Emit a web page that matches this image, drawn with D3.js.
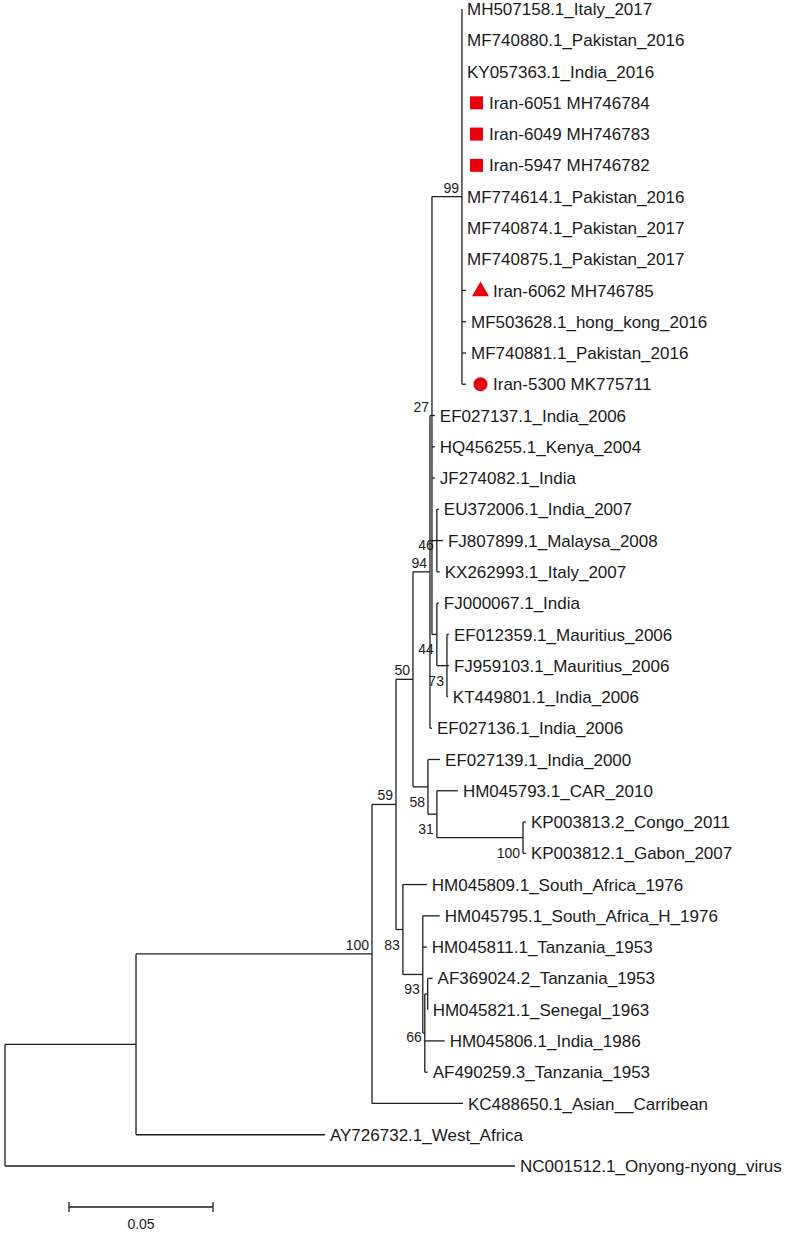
<!DOCTYPE html>
<html><head><meta charset="utf-8">
<script src="https://cdn.jsdelivr.net/npm/d3@7"></script>
<style>body{margin:0;background:#fff}svg{display:block}</style>
</head><body><svg id="chart" width="787" height="1237"></svg>
<script>
// Tree edges in drawing order: [node, parent, branch length (substitutions/site)]
const edges = [
  ["n1","root",0.04549],
  ["n2","n1",0.08194],
  ["n3","n2",0.00833],
  ["n4","n3",0.00590],
  ["n5","n4",0.00590],
  ["n6","n5",0.00069],
  ["n7","n6",0.01042],
  ["MH507158.1_Italy_2017","n7",0],
  ["MF740880.1_Pakistan_2016","n7",0],
  ["KY057363.1_India_2016","n7",0],
  ["Iran-6051 MH746784","n7",0],
  ["Iran-6049 MH746783","n7",0],
  ["Iran-5947 MH746782","n7",0],
  ["MF774614.1_Pakistan_2016","n7",0],
  ["MF740874.1_Pakistan_2017","n7",0],
  ["MF740875.1_Pakistan_2017","n7",0],
  ["Iran-6062 MH746785","n7",0.0014],
  ["MF503628.1_hong_kong_2016","n7",0.0014],
  ["MF740881.1_Pakistan_2016","n7",0.0014],
  ["Iran-5300 MK775711","n7",0.0014],
  ["EF027137.1_India_2006","n6",0.0010],
  ["HQ456255.1_Kenya_2004","n6",0.0010],
  ["JF274082.1_India","n6",0.0010],
  ["n8","n6",0.0017],
  ["EU372006.1_India_2007","n8",0.0007],
  ["FJ807899.1_Malaysa_2008","n8",0.0021],
  ["KX262993.1_Italy_2007","n8",0.0010],
  ["n9","n6",0.0017],
  ["FJ000067.1_India","n9",0.0007],
  ["n10","n9",0.0035],
  ["EF012359.1_Mauritius_2006","n10",0.0007],
  ["FJ959103.1_Mauritius_2006","n10",0.0007],
  ["KT449801.1_India_2006","n10",0.0003],
  ["EF027136.1_India_2006","n5",0.0007],
  ["n11","n4",0.0052],
  ["EF027139.1_India_2000","n11",0.0042],
  ["n12","n11",0.0031],
  ["HM045793.1_CAR_2010","n12",0.0073],
  ["n13","n12",0.0299],
  ["KP003813.2_Congo_2011","n13",0.0010],
  ["KP003812.1_Gabon_2007","n13",0.0010],
  ["n14","n3",0.0024],
  ["HM045809.1_South_Africa_1976","n14",0.0083],
  ["n15","n14",0.0069],
  ["HM045795.1_South_Africa_H_1976","n15",0.0059],
  ["HM045811.1_Tanzania_1953","n15",0.0014],
  ["n16","n15",0.0007],
  ["n17","n16",0.0010],
  ["AF369024.2_Tanzania_1953","n17",0.0017],
  ["HM045821.1_Senegal_1963","n17",0],
  ["HM045806.1_India_1986","n16",0.0069],
  ["AF490259.3_Tanzania_1953","n16",0.0010],
  ["KC488650.1_Asian__Carribean","n2",0.0316],
  ["AY726732.1_West_Africa","n1",0.0656],
  ["NC001512.1_Onyong-nyong_virus","root",0.1771]
];
// Bootstrap values: [node, value, side of node]
const bootstraps = [
  ["n2",100,"above"],["n3",59,"above"],["n4",50,"above"],["n5",94,"above"],
  ["n6",27,"above"],["n7",99,"above"],["n8",46,"mid"],["n9",44,"below"],
  ["n10",73,"below"],["n11",58,"below"],["n12",31,"below"],["n13",100,"below"],
  ["n14",83,"below"],["n15",93,"below"],["n16",66,"mid"]
];
// Highlighted Iranian isolates
const markers = [
  ["Iran-6051 MH746784","square"],["Iran-6049 MH746783","square"],
  ["Iran-5947 MH746782","square"],["Iran-6062 MH746785","triangle"],
  ["Iran-5300 MK775711","circle"]
];
const scaleBarValue = 0.05;
const scaleBarLabel = "0.05";

const svg = d3.select("#chart");
const rows = [{id:"root",parentId:null,len:0}].concat(edges.map(e=>({id:e[0],parentId:e[1],len:e[2]})));
const root = d3.stratify().id(d=>d.id).parentId(d=>d.parentId)(rows);
root.eachBefore(n=>{ n.dist = n.parent ? n.parent.dist + n.data.len : 0; });
const leaves = root.leaves();
const x = d3.scaleLinear().domain([0, scaleBarValue]).range([5, 149]);
const y = d3.scalePoint().domain(leaves.map(d=>d.id)).range([9, 1166]);
root.eachAfter(n=>{
  if (n.children) n.py = (n.children[0].py + n.children[n.children.length-1].py)/2;
  else n.py = y(n.id);
});

const lineColor = "#1e1e1e";
const g = svg.append("g").attr("fill","none").attr("stroke",lineColor).attr("stroke-width",1.3);
// horizontal branches
g.selectAll("line.h").data(root.descendants().filter(d=>d.parent)).join("line")
  .attr("class","h")
  .attr("x1",d=>x(d.parent.dist)).attr("x2",d=>x(d.dist))
  .attr("y1",d=>d.py).attr("y2",d=>d.py);
// vertical connectors
g.selectAll("line.v").data(root.descendants().filter(d=>d.children)).join("line")
  .attr("class","v")
  .attr("x1",d=>x(d.dist)).attr("x2",d=>x(d.dist))
  .attr("y1",d=>d.children[0].py).attr("y2",d=>d.children[d.children.length-1].py);

const markerMap = new Map(markers);
const font = "'Liberation Sans', Arial, sans-serif";
// leaf labels
svg.append("g").selectAll("text").data(leaves).join("text")
  .attr("x",d=>x(d.dist) + (markerMap.has(d.id) ? 27 : 5))
  .attr("y",d=>d.py).attr("dy","0.36em")
  .attr("font-family",font).attr("font-size","17px").attr("fill","#1a1a1a")
  .text(d=>d.id);
// markers
const shapes = {square:d3.symbolSquare, triangle:d3.symbolTriangle, circle:d3.symbolCircle};
const sizes = {square:169, triangle:125, circle:154};
svg.append("g").selectAll("path").data(leaves.filter(d=>markerMap.has(d.id))).join("path")
  .attr("transform",d=>`translate(${x(d.dist)+14.5},${d.py + (markerMap.get(d.id)==="triangle"?1:0)})`)
  .attr("d",d=>d3.symbol(shapes[markerMap.get(d.id)], sizes[markerMap.get(d.id)])())
  .attr("fill","#e8000b");
// bootstrap labels
const nodeMap = new Map(root.descendants().map(d=>[d.id,d]));
const off = {above:-4, below:20, mid:9};
svg.append("g").selectAll("text").data(bootstraps).join("text")
  .attr("x",d=>x(nodeMap.get(d[0]).dist) - 3)
  .attr("y",d=>nodeMap.get(d[0]).py + off[d[2]])
  .attr("text-anchor","end")
  .attr("font-family",font).attr("font-size","14px").attr("fill","#1a1a1a")
  .text(d=>d[1]);
// scale bar
const sbX = 69, sbY = 1207;
const sbW = x(scaleBarValue) - x(0);
const sb = svg.append("g").attr("stroke",lineColor).attr("stroke-width",1.3);
sb.append("line").attr("x1",sbX).attr("x2",sbX+sbW).attr("y1",sbY).attr("y2",sbY);
sb.append("line").attr("x1",sbX).attr("x2",sbX).attr("y1",sbY-5).attr("y2",sbY+5);
sb.append("line").attr("x1",sbX+sbW).attr("x2",sbX+sbW).attr("y1",sbY-5).attr("y2",sbY+5);
svg.append("text").attr("x",sbX+sbW/2).attr("y",sbY+22).attr("text-anchor","middle")
  .attr("font-family",font).attr("font-size","14px").attr("fill","#1a1a1a").text(scaleBarLabel);
</script></body></html>
